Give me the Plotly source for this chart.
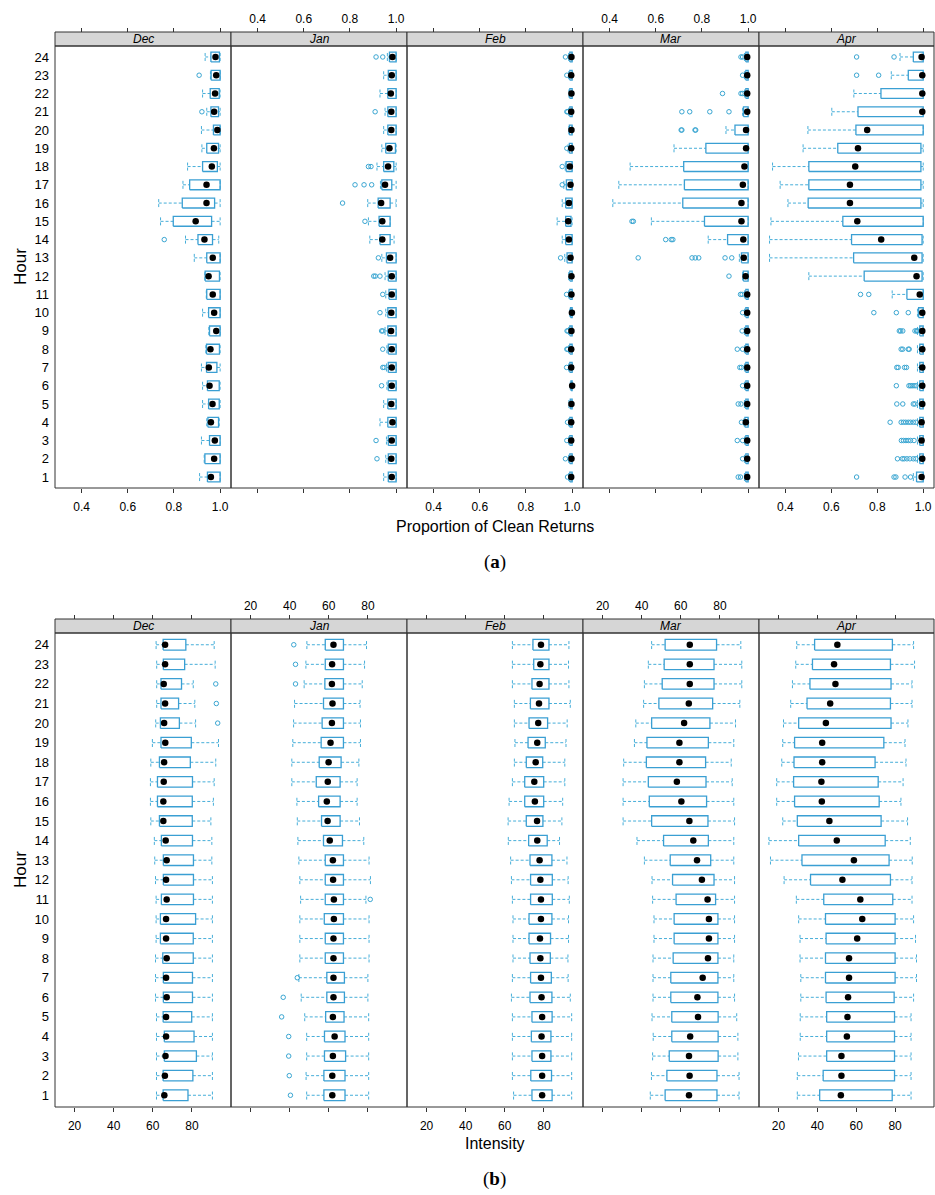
import plotly.graph_objects as go

# ---------------- data ----------------
HOURS = list(range(1, 25))
MONTHS = ["Dec", "Jan", "Feb", "Mar", "Apr"]

TICKS_A = [0.4, 0.6, 0.8, 1.0]
TICKLABELS_A = ["0.4", "0.6", "0.8", "1.0"]
TICKS_B = [20, 40, 60, 80]
TICKLABELS_B = ["20", "40", "60", "80"]
XRANGE_A = [0.285, 1.047]
XRANGE_B = [10, 100]
XTITLE_A = "Proportion of Clean Returns"
XTITLE_B = "Intensity"
YTITLE = "Hour"

# (a) Proportion of clean returns, values listed for hours 1..24
A_DEC_LW = [0.911, 0.931, 0.919, 0.942, 0.924, 0.924, 0.919, 0.938, 0.951, 0.924, 0.940, 0.934, 0.888, 0.850, 0.742, 0.734, 0.839, 0.859, 0.921, 0.919, 0.942, 0.924, 0.958, 0.935]
A_DEC_Q1 = [0.945, 0.934, 0.954, 0.947, 0.950, 0.945, 0.941, 0.941, 0.954, 0.950, 0.942, 0.935, 0.942, 0.904, 0.797, 0.836, 0.868, 0.924, 0.942, 0.971, 0.960, 0.957, 0.961, 0.960]
A_DEC_MED = [0.960, 0.974, 0.977, 0.960, 0.967, 0.954, 0.951, 0.958, 0.983, 0.974, 0.968, 0.950, 0.968, 0.932, 0.894, 0.941, 0.941, 0.964, 0.973, 0.988, 0.974, 0.978, 0.983, 0.980]
A_DEC_Q3 = [1.0, 1.0, 1.0, 0.993, 0.996, 0.996, 0.986, 0.997, 1.0, 1.0, 1.0, 0.997, 1.0, 0.967, 0.963, 0.976, 1.0, 0.988, 0.993, 1.0, 0.993, 0.996, 1.0, 0.997]
A_DEC_UW = [1.0, 1.0, 1.0, 0.996, 1.0, 1.0, 1.0, 1.0, 1.0, 1.0, 1.0, 1.0, 1.0, 0.994, 1.0, 1.0, 1.0, 1.0, 1.0, 1.0, 1.0, 1.0, 1.0, 1.0]
A_DEC_OUT = {14: [0.758], 21: [0.921], 23: [0.909]}

A_JAN_LW = [0.946, 0.955, 0.958, 0.930, 0.946, 0.960, 0.958, 0.960, 0.952, 0.955, 0.955, 0.952, 0.938, 0.886, 0.880, 0.877, 0.932, 0.917, 0.938, 0.946, 0.952, 0.930, 0.946, 0.962]
A_JAN_Q1 = [0.966, 0.966, 0.966, 0.964, 0.964, 0.966, 0.966, 0.966, 0.964, 0.964, 0.969, 0.966, 0.958, 0.930, 0.926, 0.922, 0.938, 0.946, 0.955, 0.964, 0.964, 0.964, 0.966, 0.971]
A_JAN_MED = [0.981, 0.979, 0.981, 0.984, 0.979, 0.981, 0.981, 0.981, 0.978, 0.979, 0.981, 0.981, 0.974, 0.940, 0.940, 0.935, 0.952, 0.965, 0.971, 0.979, 0.979, 0.977, 0.981, 0.984]
A_JAN_Q3 = [1.0, 1.0, 1.0, 1.0, 1.0, 1.0, 1.0, 1.0, 1.0, 1.0, 1.0, 1.0, 1.0, 0.974, 0.974, 0.974, 0.981, 0.990, 0.997, 1.0, 1.0, 1.0, 1.0, 1.0]
A_JAN_UW = [1.0, 1.0, 1.0, 1.0, 1.0, 1.0, 1.0, 1.0, 1.0, 1.0, 1.0, 1.0, 1.0, 0.991, 0.974, 1.0, 1.0, 1.0, 1.0, 1.0, 1.0, 1.0, 1.0, 1.0]
A_JAN_OUT = {2: [0.917], 3: [0.913], 6: [0.937], 7: [0.942, 0.948], 8: [0.942], 9: [0.937, 0.942],
             10: [0.930], 11: [0.942], 12: [0.903, 0.910, 0.930], 13: [0.923], 15: [0.865], 16: [0.768],
             17: [0.822, 0.861, 0.894], 18: [0.880, 0.891], 21: [0.909], 24: [0.913, 0.942]}

A_FEB_LW = [0.985, 0.985, 0.985, 0.985, 0.986, 0.992, 0.985, 0.985, 0.985, 0.990, 0.985, 0.985, 0.968, 0.957, 0.935, 0.957, 0.964, 0.970, 0.982, 0.986, 0.985, 0.986, 0.985, 0.985]
A_FEB_Q1 = [0.990, 0.990, 0.990, 0.990, 0.992, 0.995, 0.990, 0.990, 0.990, 0.993, 0.990, 0.990, 0.978, 0.972, 0.972, 0.972, 0.975, 0.974, 0.988, 0.988, 0.990, 0.990, 0.990, 0.990]
A_FEB_MED = [0.996, 0.997, 0.996, 0.996, 0.997, 1.000, 0.996, 0.996, 0.997, 0.999, 0.997, 0.997, 0.993, 0.986, 0.983, 0.986, 0.993, 0.990, 0.996, 0.997, 0.996, 0.997, 0.996, 0.997]
A_FEB_Q3 = [1.0, 1.0, 1.0, 1.0, 1.0, 1.0, 1.0, 1.0, 1.0, 1.0, 1.0, 1.0, 1.0, 1.0, 0.995, 1.0, 1.0, 1.0, 1.0, 1.0, 1.0, 1.0, 1.0, 1.0]
A_FEB_UW = [1.0, 1.0, 1.0, 1.0, 1.0, 1.0, 1.0, 1.0, 1.0, 1.0, 1.0, 1.0, 1.0, 1.0, 1.0, 1.0, 1.0, 1.0, 1.0, 1.0, 1.0, 1.0, 1.0, 1.0]
A_FEB_OUT = {1: [0.980], 2: [0.971], 3: [0.977], 4: [0.980], 7: [0.976], 8: [0.977, 0.981], 9: [0.978, 0.982],
             11: [0.976], 13: [0.950], 17: [0.957], 18: [0.957], 19: [0.977], 21: [0.977, 0.981], 23: [0.977], 24: [0.971]}

A_MAR_LW = [0.984, 0.984, 0.984, 0.982, 0.984, 0.984, 0.984, 0.984, 0.984, 0.984, 0.984, 0.976, 0.962, 0.827, 0.581, 0.414, 0.440, 0.489, 0.679, 0.904, 0.976, 0.984, 0.984, 0.984]
A_MAR_Q1 = [0.990, 0.990, 0.990, 0.986, 0.990, 0.990, 0.990, 0.990, 0.990, 0.990, 0.990, 0.979, 0.971, 0.911, 0.811, 0.717, 0.724, 0.721, 0.817, 0.943, 0.980, 0.990, 0.990, 0.990]
A_MAR_MED = [0.996, 0.996, 0.996, 0.990, 0.996, 0.996, 0.996, 0.996, 0.996, 0.996, 0.996, 0.989, 0.981, 0.979, 0.971, 0.971, 0.977, 0.984, 0.991, 0.991, 0.996, 0.996, 0.996, 0.996]
A_MAR_Q3 = [1.0, 1.0, 1.0, 1.0, 1.0, 1.0, 1.0, 1.0, 1.0, 1.0, 1.0, 1.0, 1.0, 1.0, 1.0, 1.0, 1.0, 1.0, 1.0, 1.0, 1.0, 1.0, 1.0, 1.0]
A_MAR_UW = [1.0, 1.0, 1.0, 1.0, 1.0, 1.0, 1.0, 1.0, 1.0, 1.0, 1.0, 1.0, 1.0, 1.0, 1.0, 1.0, 1.0, 1.0, 1.0, 1.0, 1.0, 1.0, 1.0, 1.0]
A_MAR_OUT = {1: [0.957, 0.967], 2: [0.976], 3: [0.953, 0.976], 4: [0.971], 5: [0.957, 0.969], 6: [0.976],
             7: [0.964, 0.971], 8: [0.953, 0.976], 9: [0.974], 10: [0.976], 11: [0.967, 0.974], 12: [0.917],
             13: [0.524, 0.757, 0.771, 0.786, 0.900, 0.929], 14: [0.643, 0.667, 0.674], 15: [0.497, 0.503],
             20: [0.710, 0.713, 0.770, 0.773], 21: [0.713, 0.747, 0.834, 0.917], 22: [0.889, 0.969, 0.976],
             23: [0.976], 24: [0.969, 0.976]}

A_APR_LW = [0.957, 0.975, 0.975, 0.975, 0.975, 0.975, 0.975, 0.975, 0.975, 0.975, 0.865, 0.502, 0.331, 0.331, 0.337, 0.411, 0.377, 0.344, 0.477, 0.498, 0.602, 0.698, 0.861, 0.899]
A_APR_Q1 = [0.971, 0.985, 0.985, 0.985, 0.985, 0.985, 0.985, 0.985, 0.985, 0.980, 0.929, 0.743, 0.697, 0.688, 0.650, 0.499, 0.502, 0.502, 0.628, 0.707, 0.716, 0.816, 0.935, 0.957]
A_APR_MED = [0.993, 0.996, 0.993, 0.993, 0.996, 0.996, 0.996, 0.996, 0.996, 0.996, 0.985, 0.971, 0.961, 0.817, 0.713, 0.681, 0.681, 0.704, 0.716, 0.756, 0.996, 0.996, 0.996, 0.993]
A_APR_Q3 = [1.0, 1.0, 1.0, 1.0, 1.0, 1.0, 1.0, 1.0, 1.0, 1.0, 1.0, 0.995, 0.995, 0.995, 1.0, 0.990, 0.990, 0.990, 0.990, 1.0, 1.0, 1.0, 1.0, 1.0]
A_APR_UW = [1.0, 1.0, 1.0, 1.0, 1.0, 1.0, 1.0, 1.0, 1.0, 1.0, 1.0, 1.0, 1.0, 1.0, 1.0, 1.0, 1.0, 1.0, 1.0, 1.0, 1.0, 1.0, 1.0, 1.0]
A_APR_OUT = {1: [0.710, 0.873, 0.881, 0.921, 0.945], 2: [0.888, 0.909, 0.917, 0.929, 0.942, 0.957, 0.968],
             3: [0.905, 0.914, 0.925, 0.935, 0.945, 0.960], 4: [0.856, 0.904, 0.914, 0.924, 0.935, 0.945, 0.957, 0.968],
             5: [0.885, 0.911, 0.957, 0.964], 6: [0.883, 0.938, 0.945, 0.952, 0.960, 0.968],
             7: [0.885, 0.891, 0.919, 0.927], 8: [0.904, 0.911, 0.935, 0.939],
             9: [0.896, 0.902, 0.911, 0.964, 0.971, 0.975], 10: [0.785, 0.883, 0.935], 11: [0.727, 0.763],
             23: [0.710, 0.806], 24: [0.710, 0.873]}

# (b) Intensity, values listed for hours 1..24
B_DEC_LW = [61.9, 61.9, 61.9, 61.9, 61.9, 61.4, 61.4, 61.4, 61.7, 61.7, 61.7, 61.4, 61.0, 60.8, 59.0, 58.8, 58.8, 59.0, 59.8, 61.5, 62.0, 62.0, 62.0, 61.7]
B_DEC_Q1 = [65.3, 65.3, 65.9, 65.9, 65.3, 65.4, 65.4, 65.1, 63.9, 63.9, 64.4, 65.4, 65.4, 64.4, 63.4, 62.4, 62.4, 63.4, 64.2, 63.9, 64.2, 64.2, 65.4, 65.3]
B_DEC_MED = [65.9, 66.2, 66.5, 66.8, 66.8, 67.1, 66.8, 67.1, 66.8, 66.8, 67.1, 66.8, 67.1, 66.6, 65.4, 65.4, 65.6, 65.8, 66.4, 65.8, 66.3, 65.6, 66.3, 66.3]
B_DEC_Q3 = [78.0, 80.5, 82.3, 81.1, 79.9, 80.3, 80.3, 80.7, 80.7, 81.9, 80.8, 80.8, 80.8, 80.3, 80.2, 80.2, 80.3, 79.2, 79.7, 73.6, 73.2, 74.7, 76.3, 76.9]
B_DEC_UW = [90.5, 90.5, 90.5, 90.5, 90.5, 90.5, 90.5, 90.5, 90.5, 90.5, 90.5, 90.5, 90.2, 90.2, 89.7, 91.0, 91.4, 92.2, 93.6, 81.9, 81.5, 80.7, 91.9, 91.4]
B_DEC_OUT = {20: [93.2], 21: [92.5], 22: [92.2]}

B_JAN_LW = [48.7, 48.4, 48.7, 48.7, 47.7, 45.9, 44.7, 45.2, 45.2, 45.2, 45.6, 45.2, 44.7, 44.2, 43.9, 43.7, 41.1, 41.1, 41.6, 42.0, 42.5, 47.4, 48.3, 48.8]
B_JAN_Q1 = [57.5, 57.5, 57.8, 57.8, 58.4, 59.0, 59.0, 58.2, 58.2, 57.7, 58.2, 58.2, 58.2, 57.3, 56.3, 54.8, 53.6, 55.1, 56.1, 56.6, 57.3, 58.0, 58.2, 58.2]
B_JAN_MED = [61.8, 61.8, 62.1, 63.0, 62.1, 62.4, 62.4, 62.4, 62.4, 62.6, 62.6, 62.2, 62.1, 60.5, 59.4, 59.0, 59.5, 59.9, 60.9, 61.6, 61.9, 61.6, 61.7, 62.4]
B_JAN_Q3 = [68.3, 68.3, 68.6, 68.3, 67.8, 68.0, 68.0, 67.5, 67.5, 67.5, 67.5, 67.5, 67.5, 67.0, 65.8, 65.8, 65.8, 66.3, 67.5, 67.5, 67.5, 67.5, 67.5, 67.5]
B_JAN_UW = [80.4, 80.4, 80.4, 80.4, 80.4, 80.0, 80.0, 80.6, 80.6, 80.6, 79.0, 81.3, 80.6, 77.9, 75.7, 74.5, 74.5, 75.4, 76.2, 76.2, 76.0, 77.1, 78.3, 79.3]
B_JAN_OUT = {1: [40.4], 2: [39.8], 3: [39.5], 4: [39.5], 5: [35.9], 6: [36.7], 7: [43.9], 11: [81.2],
             22: [43.0], 23: [43.0], 24: [42.1]}

B_FEB_LW = [64.5, 63.9, 63.9, 63.9, 63.9, 63.4, 63.9, 64.2, 64.2, 64.2, 63.9, 63.4, 63.0, 61.8, 61.7, 62.2, 63.9, 64.9, 65.2, 64.9, 64.9, 63.9, 63.9, 63.9]
B_FEB_Q1 = [73.9, 73.3, 73.9, 73.6, 73.9, 72.9, 73.2, 72.9, 72.4, 72.4, 73.2, 73.2, 72.9, 72.2, 71.0, 70.2, 70.2, 71.0, 71.9, 72.4, 73.1, 73.9, 74.8, 74.4]
B_FEB_MED = [79.1, 79.1, 79.1, 78.8, 79.1, 78.8, 78.5, 78.2, 78.0, 78.5, 78.5, 78.2, 77.8, 76.6, 76.5, 75.4, 75.1, 75.8, 76.6, 77.1, 77.5, 77.8, 78.2, 78.5]
B_FEB_Q3 = [84.2, 83.9, 83.6, 83.6, 84.2, 84.1, 83.8, 83.3, 83.4, 84.1, 84.3, 84.3, 84.1, 81.7, 79.5, 79.9, 79.9, 79.4, 80.7, 81.9, 82.6, 82.6, 82.6, 82.6]
B_FEB_UW = [94.2, 94.2, 94.2, 94.2, 94.2, 93.5, 92.4, 92.3, 92.6, 92.6, 93.0, 92.4, 91.8, 88.0, 89.2, 89.6, 90.7, 90.7, 91.3, 91.9, 93.5, 92.8, 92.6, 92.8]
B_FEB_OUT = {}

B_MAR_LW = [44.4, 45.0, 45.6, 45.9, 45.3, 45.8, 45.8, 45.8, 46.3, 46.3, 45.6, 45.3, 41.4, 37.6, 30.5, 30.5, 30.5, 30.8, 36.3, 37.0, 41.0, 41.4, 43.4, 45.1]
B_MAR_Q1 = [52.0, 52.9, 54.1, 55.4, 55.4, 54.9, 54.9, 56.1, 56.6, 56.6, 57.6, 55.8, 54.6, 51.2, 45.1, 43.9, 43.4, 42.4, 42.7, 45.1, 48.8, 50.5, 51.5, 52.0]
B_MAR_MED = [64.2, 64.5, 64.2, 64.8, 68.8, 68.5, 71.2, 73.9, 74.4, 74.4, 73.7, 70.8, 68.3, 66.4, 64.4, 60.3, 58.0, 59.3, 59.3, 61.7, 64.1, 64.6, 64.6, 64.6]
B_MAR_Q3 = [78.5, 78.5, 79.1, 79.1, 79.1, 79.0, 79.0, 79.0, 79.0, 79.0, 77.8, 77.0, 75.3, 74.1, 73.9, 73.2, 72.9, 72.7, 74.1, 74.9, 76.3, 77.0, 77.0, 78.3]
B_MAR_UW = [89.8, 89.8, 89.2, 89.2, 88.6, 87.5, 87.1, 87.1, 87.5, 87.5, 87.5, 87.5, 87.1, 87.1, 87.5, 87.1, 86.3, 85.8, 87.1, 88.0, 90.2, 91.2, 91.2, 90.7]
B_MAR_OUT = {}

B_APR_LW = [29.7, 29.7, 30.3, 31.2, 31.2, 31.5, 31.5, 31.1, 31.1, 30.4, 29.2, 22.9, 15.9, 15.1, 22.2, 19.1, 19.1, 21.7, 22.2, 22.6, 26.3, 27.2, 28.9, 29.4]
B_APR_Q1 = [41.2, 43.0, 44.8, 44.8, 44.8, 44.5, 44.2, 44.2, 44.5, 44.2, 43.3, 36.5, 32.1, 30.4, 29.7, 28.3, 27.8, 28.0, 28.3, 30.4, 34.7, 36.2, 37.5, 38.6]
B_APR_MED = [52.1, 52.4, 52.4, 55.2, 55.5, 55.8, 56.3, 56.3, 60.5, 63.1, 62.1, 52.9, 58.8, 50.0, 46.2, 42.3, 42.1, 42.5, 42.5, 44.4, 46.6, 49.3, 48.6, 50.3]
B_APR_Q3 = [78.5, 79.7, 79.7, 79.7, 79.7, 79.5, 80.0, 80.0, 80.0, 80.0, 78.8, 77.6, 76.9, 74.9, 72.8, 71.8, 71.3, 69.7, 74.2, 77.9, 77.6, 77.9, 77.6, 78.6]
B_APR_UW = [88.2, 88.2, 88.2, 88.2, 88.2, 89.5, 91.0, 91.0, 90.5, 89.5, 88.7, 88.7, 88.8, 87.8, 86.4, 83.0, 84.1, 85.6, 85.1, 86.6, 88.7, 88.7, 90.0, 89.5]
B_APR_OUT = {}

CHART_A = [
    (A_DEC_LW, A_DEC_Q1, A_DEC_MED, A_DEC_Q3, A_DEC_UW, A_DEC_OUT),
    (A_JAN_LW, A_JAN_Q1, A_JAN_MED, A_JAN_Q3, A_JAN_UW, A_JAN_OUT),
    (A_FEB_LW, A_FEB_Q1, A_FEB_MED, A_FEB_Q3, A_FEB_UW, A_FEB_OUT),
    (A_MAR_LW, A_MAR_Q1, A_MAR_MED, A_MAR_Q3, A_MAR_UW, A_MAR_OUT),
    (A_APR_LW, A_APR_Q1, A_APR_MED, A_APR_Q3, A_APR_UW, A_APR_OUT),
]
CHART_B = [
    (B_DEC_LW, B_DEC_Q1, B_DEC_MED, B_DEC_Q3, B_DEC_UW, B_DEC_OUT),
    (B_JAN_LW, B_JAN_Q1, B_JAN_MED, B_JAN_Q3, B_JAN_UW, B_JAN_OUT),
    (B_FEB_LW, B_FEB_Q1, B_FEB_MED, B_FEB_Q3, B_FEB_UW, B_FEB_OUT),
    (B_MAR_LW, B_MAR_Q1, B_MAR_MED, B_MAR_Q3, B_MAR_UW, B_MAR_OUT),
    (B_APR_LW, B_APR_Q1, B_APR_MED, B_APR_Q3, B_APR_UW, B_APR_OUT),
]

# ---------------- layout / style ----------------
W, H = 935, 1195
PX = [55, 231, 407, 583, 759, 934]
FONT = "Liberation Sans, Arial, sans-serif"
BOX_COL = "#3a9fd3"
WHISK_COL = "#46aed9"
OUT_COL = "#3aa6d2"
FRAME_COL = "#333333"
STRIP_COL = "#d6d6d6"
BH = 0.27   # half box height (hour units)
CH = 0.22   # half cap height

CHARTS = [
    dict(data=CHART_A, strip_top=32, panel_top=46, panel_bot=488, xr=XRANGE_A,
         tv=TICKS_A, tt=TICKLABELS_A, title=XTITLE_A, title_y=526, tag="(<b>a</b>)", tag_y=562, hour_y=267),
    dict(data=CHART_B, strip_top=619, panel_top=633, panel_bot=1107, xr=XRANGE_B,
         tv=TICKS_B, tt=TICKLABELS_B, title=XTITLE_B, title_y=1143, tag="(<b>b</b>)", tag_y=1179, hour_y=870),
]


def fy(py):
    return 1 - py / H


def fx(px):
    return px / W


fig = go.Figure()
layout = dict(width=W, height=H, margin=dict(l=0, r=0, t=0, b=0),
              paper_bgcolor="white", plot_bgcolor="white", showlegend=False)
shapes = []
annotations = []

for c, ch in enumerate(CHARTS):
    for k, (lw, q1, med, q3, uw, out) in enumerate(ch["data"]):
        n = c * 5 + k + 1
        nt = n + 10
        xa, ya, xt = f"x{n}", f"y{n}", f"x{nt}"
        bx, by, wx, wy, cx, cy = [], [], [], [], [], []
        for i, h in enumerate(HOURS):
            bx += [q1[i], q3[i], q3[i], q1[i], q1[i], None]
            by += [h - BH, h - BH, h + BH, h + BH, h - BH, None]
            wx += [lw[i], q1[i], None, q3[i], uw[i], None]
            wy += [h, h, None, h, h, None]
            cx += [lw[i], lw[i], None, uw[i], uw[i], None]
            cy += [h - CH, h + CH, None, h - CH, h + CH, None]
        ox, oy = [], []
        for h, vals in out.items():
            for v in vals:
                ox.append(v)
                oy.append(h)
        fig.add_trace(go.Scatter(x=wx, y=wy, mode="lines", xaxis=xa, yaxis=ya, hoverinfo="skip",
                                 line=dict(color=WHISK_COL, width=1, dash="3px,2px")))
        fig.add_trace(go.Scatter(x=cx, y=cy, mode="lines", xaxis=xa, yaxis=ya, hoverinfo="skip",
                                 line=dict(color=WHISK_COL, width=1, dash="3px,2px")))
        fig.add_trace(go.Scatter(x=bx, y=by, mode="lines", xaxis=xa, yaxis=ya, hoverinfo="skip",
                                 line=dict(color=BOX_COL, width=1.3)))
        fig.add_trace(go.Scatter(x=ox, y=oy, mode="markers", xaxis=xa, yaxis=ya, hoverinfo="skip",
                                 marker=dict(symbol="circle-open", size=4.5, color=OUT_COL,
                                             line=dict(width=1, color=OUT_COL))))
        fig.add_trace(go.Scatter(x=med, y=HOURS, mode="markers", xaxis=xa, yaxis=ya, hoverinfo="skip",
                                 marker=dict(symbol="circle", size=6.5, color="black")))
        fig.add_trace(go.Scatter(x=[], y=[], mode="markers", xaxis=xt, yaxis=ya, hoverinfo="skip"))

        x0, x1 = fx(PX[k]), fx(PX[k + 1])
        common = dict(range=ch["xr"], tickvals=ch["tv"], ticktext=ch["tt"], ticks="outside",
                      ticklen=4, tickwidth=1, tickcolor=FRAME_COL, showgrid=False, zeroline=False,
                      showline=False, tickfont=dict(family=FONT, size=12, color="black"), fixedrange=True)
        layout[f"xaxis{n}"] = dict(domain=[x0, x1], anchor=ya, side="bottom",
                                   showticklabels=(k in (0, 2, 4)), ticklabelstandoff=4, **common)
        layout[f"xaxis{nt}"] = dict(domain=[x0, x1], anchor="free", overlaying=xa, side="top",
                                    position=fy(ch["strip_top"]),
                                    showticklabels=(k in (1, 3)), **common)
        layout[f"yaxis{n}"] = dict(domain=[fy(ch["panel_bot"]), fy(ch["panel_top"])], anchor=xa,
                                   range=[0.4, 24.6], tickvals=HOURS, ticktext=[str(h) for h in HOURS],
                                   showticklabels=(k == 0), ticks="", showgrid=False, zeroline=False,
                                   showline=False, ticklabelstandoff=5,
                                   tickfont=dict(family=FONT, size=13, color="black"), fixedrange=True)
        # strip and panel frame
        shapes.append(dict(type="rect", xref="paper", yref="paper", x0=x0, x1=x1,
                           y0=fy(ch["panel_top"]), y1=fy(ch["strip_top"]),
                           fillcolor=STRIP_COL, line=dict(color=FRAME_COL, width=1), layer="below"))
        shapes.append(dict(type="rect", xref="paper", yref="paper", x0=x0, x1=x1,
                           y0=fy(ch["panel_bot"]), y1=fy(ch["panel_top"]),
                           line=dict(color=FRAME_COL, width=1), layer="above"))
        annotations.append(dict(text=f"<i>{MONTHS[k]}</i>", xref="paper", yref="paper",
                                x=(x0 + x1) / 2, y=fy((ch["strip_top"] + ch["panel_top"]) / 2),
                                xanchor="center", yanchor="middle", showarrow=False,
                                font=dict(family=FONT, size=12, color="black")))
    annotations.append(dict(text=ch["title"], xref="paper", yref="paper", x=fx((PX[0] + PX[-1]) / 2),
                            y=fy(ch["title_y"]), xanchor="center", yanchor="middle", showarrow=False,
                            font=dict(family=FONT, size=16, color="black")))
    annotations.append(dict(text=ch["tag"], xref="paper", yref="paper", x=fx((PX[0] + PX[-1]) / 2),
                            y=fy(ch["tag_y"]), xanchor="center", yanchor="middle", showarrow=False,
                            font=dict(family="Liberation Serif, Times New Roman, serif", size=19, color="black")))
    annotations.append(dict(text=YTITLE, xref="paper", yref="paper", x=fx(20), y=fy(ch["hour_y"]),
                            xanchor="center", yanchor="middle", showarrow=False, textangle=-90,
                            font=dict(family=FONT, size=17, color="black")))

layout["shapes"] = shapes
layout["annotations"] = annotations
fig.update_layout(**layout)
fig.write_html("out.html")
